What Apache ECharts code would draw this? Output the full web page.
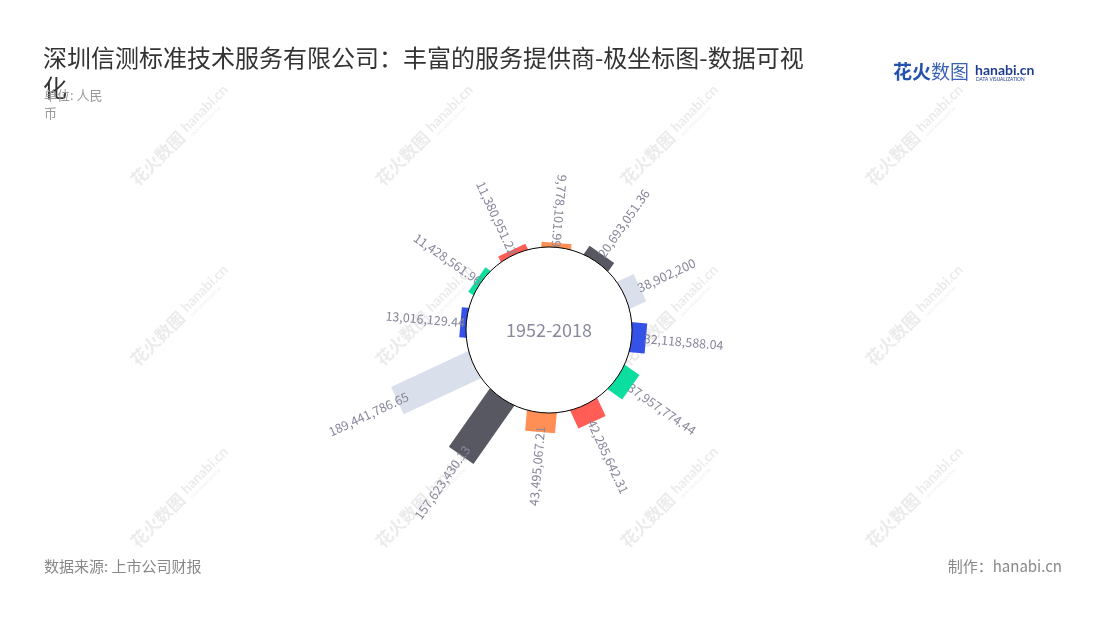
<!DOCTYPE html>
<html>
<head>
<meta charset="utf-8">
<script src="https://cdn.jsdelivr.net/npm/echarts@6/dist/echarts.min.js"></script>
<style>
html,body{margin:0;padding:0;background:#fff;}
#c{width:1100px;height:620px;}
</style>
</head>
<body>
<div id="c"></div>
<script>
// ---- data ----
const categories = ['1','2','3','4','5','6','7','8','9','10','11','12'];
const values = [9778101.99, 20693051.36, 38902200, 32118588.04, 37957774.44, 42285642.31,
                43495067.21, 157623430.13, 189441786.65, 13016129.44, 11428561.96, 11380951.22];
const colors = ['#FF8F55', '#575861', '#D9DFEB', '#3452E8', '#0CDE9F', '#FF5D55'];
const centerText = '1952-2018';
const titleText = '深圳信测标准技术服务有限公司：丰富的服务提供商-极坐标图-数据可视\n化';
const unitText = '单位: 人民\n币';
const sourceText = '数据来源: 上市公司财报';
const makerText = '制作：hanabi.cn';

const FONT = '"Noto Sans CJK SC","Noto Sans",sans-serif';
const LABEL_COLOR = '#86869b';

function fmt(v) {
  return v.toLocaleString('en-US', {maximumFractionDigits: 2});
}

const seriesData = values.map((v, i) => [v, i]);

function unitVec(params, api, i) {
  const cs = params.coordSys;
  const p0 = api.coord([0, i]);
  const dx = p0[0] - cs.cx, dy = p0[1] - cs.cy;
  const len = Math.hypot(dx, dy) || 1;
  return {p0, ux: dx / len, uy: dy / len, cs};
}

function renderBar(params, api) {
  const v = api.value(0), i = api.value(1);
  const u = unitVec(params, api, i);
  const p1 = api.coord([v, i]);
  const hw = 15;
  const nx = -u.uy, ny = u.ux;
  const inner = [u.p0[0] - u.ux * 14, u.p0[1] - u.uy * 14];
  const pts = [
    [inner[0] + nx * hw, inner[1] + ny * hw],
    [p1[0] + nx * hw, p1[1] + ny * hw],
    [p1[0] - nx * hw, p1[1] - ny * hw],
    [inner[0] - nx * hw, inner[1] - ny * hw]
  ];
  return {type: 'polygon', shape: {points: pts}, style: {fill: colors[i % colors.length]}};
}

function renderLabel(params, api) {
  const v = api.value(0), i = api.value(1);
  const u = unitVec(params, api, i);
  const p1 = api.coord([v, i]);
  const barLen = Math.hypot(p1[0] - u.p0[0], p1[1] - u.p0[1]);
  const ang = Math.atan2(-u.uy, u.ux);
  const deg = ang * 180 / Math.PI;
  const outward = deg > -90 && deg < 80;
  const off = outward ? 2 : 4 + 0.09 * barLen;
  return {
    type: 'text',
    x: p1[0] - u.ux * off,
    y: p1[1] - u.uy * off,
    rotation: outward ? ang : ang - Math.PI,
    style: {
      text: fmt(v),
      fill: LABEL_COLOR,
      fontSize: 12.5,
      fontFamily: FONT,
      align: outward ? 'left' : 'right',
      verticalAlign: 'middle'
    }
  };
}

// watermark decoration
const wmCenters = [];
[183, 428, 673, 918].forEach(x => [133, 313, 495].forEach(y => wmCenters.push([x, y])));
const WM = 'rgba(110,110,110,0.14)';
const watermarks = wmCenters.map(c => ({
  type: 'group', x: c[0], y: c[1], rotation: Math.PI / 4, z: 100, silent: true,
  children: [
    {type: 'text', x: -2, y: 0, style: {text: '花火数图', fill: WM, fontSize: 17, fontWeight: 'bold', fontFamily: FONT, align: 'right', verticalAlign: 'middle'}},
    {type: 'text', x: 3, y: -2, style: {text: 'hanabi.cn', fill: WM, fontSize: 14, fontWeight: 'bold', fontFamily: 'Lato, sans-serif', align: 'left', verticalAlign: 'middle'}},
    {type: 'text', x: 4, y: 8, style: {text: 'DATA VISUALIZATION', fill: WM, fontSize: 4, fontFamily: 'Lato, sans-serif', align: 'left', verticalAlign: 'middle'}}
  ]
}));

const logo = {
  type: 'group', x: 893, y: 72, silent: true,
  children: [
    {type: 'text', x: 0, y: 0, style: {text: '花火', fill: '#2452ae', fontSize: 19, fontWeight: 'bold', fontFamily: FONT, align: 'left', verticalAlign: 'middle'}},
    {type: 'text', x: 38, y: 0, style: {text: '数图', fill: '#3a63b8', fontSize: 19, fontWeight: 'normal', fontFamily: FONT, align: 'left', verticalAlign: 'middle'}},
    {type: 'text', x: 82, y: -2, style: {text: 'hanabi.cn', fill: '#1f3d8f', fontSize: 14, fontWeight: 'bold', fontFamily: 'Lato, sans-serif', align: 'left', verticalAlign: 'middle'}},
    {type: 'text', x: 83, y: 7, style: {text: 'DATA VISUALIZATION', fill: '#1f3d8f', fontSize: 4.8, fontFamily: 'Lato, sans-serif', align: 'left', verticalAlign: 'middle'}}
  ]
};

const chart = echarts.init(document.getElementById('c'), null, {renderer: 'canvas'});
chart.setOption({
  backgroundColor: '#fff',
  animation: false,
  title: [
    {text: titleText, left: 38, top: 38, textStyle: {fontSize: 24, fontWeight: 'normal', color: '#333', lineHeight: 30, fontFamily: FONT}},
    {text: unitText, left: 39, top: 81, textStyle: {fontSize: 13, fontWeight: 'normal', color: '#999', lineHeight: 18, fontFamily: FONT}},
    {text: sourceText, left: 39, top: 554, textStyle: {fontSize: 15, fontWeight: 'normal', color: '#888', fontFamily: FONT}},
    {text: makerText, right: 33, top: 554, textStyle: {fontSize: 15, fontWeight: 'normal', color: '#888', fontFamily: FONT}}
  ],
  polar: {center: [549, 330], radius: [83, 172]},
  angleAxis: {
    type: 'category', data: categories, startAngle: 100, clockwise: true,
    show: false, boundaryGap: true
  },
  radiusAxis: {type: 'value', min: 0, max: 200000000, show: false},
  graphic: watermarks.concat([logo]),
  series: [
    {type: 'custom', coordinateSystem: 'polar', data: seriesData, encode: {radius: 0, angle: 1},
     renderItem: renderBar, z: 1, silent: true},
    {type: 'custom', coordinateSystem: 'polar', data: seriesData, encode: {radius: 0, angle: 1},
     renderItem: renderLabel, z: 2, silent: true},
    {type: 'pie', center: [549, 330], radius: [0, 83], z: 3, silent: true,
     data: [{value: 1, name: centerText}],
     itemStyle: {color: '#fff', borderColor: '#000', borderWidth: 1},
     label: {show: true, position: 'center', formatter: centerText, fontSize: 18, color: '#8a8a9e', fontFamily: FONT},
     labelLine: {show: false},
     emphasis: {disabled: true}}
  ]
});
</script>
</body>
</html>
